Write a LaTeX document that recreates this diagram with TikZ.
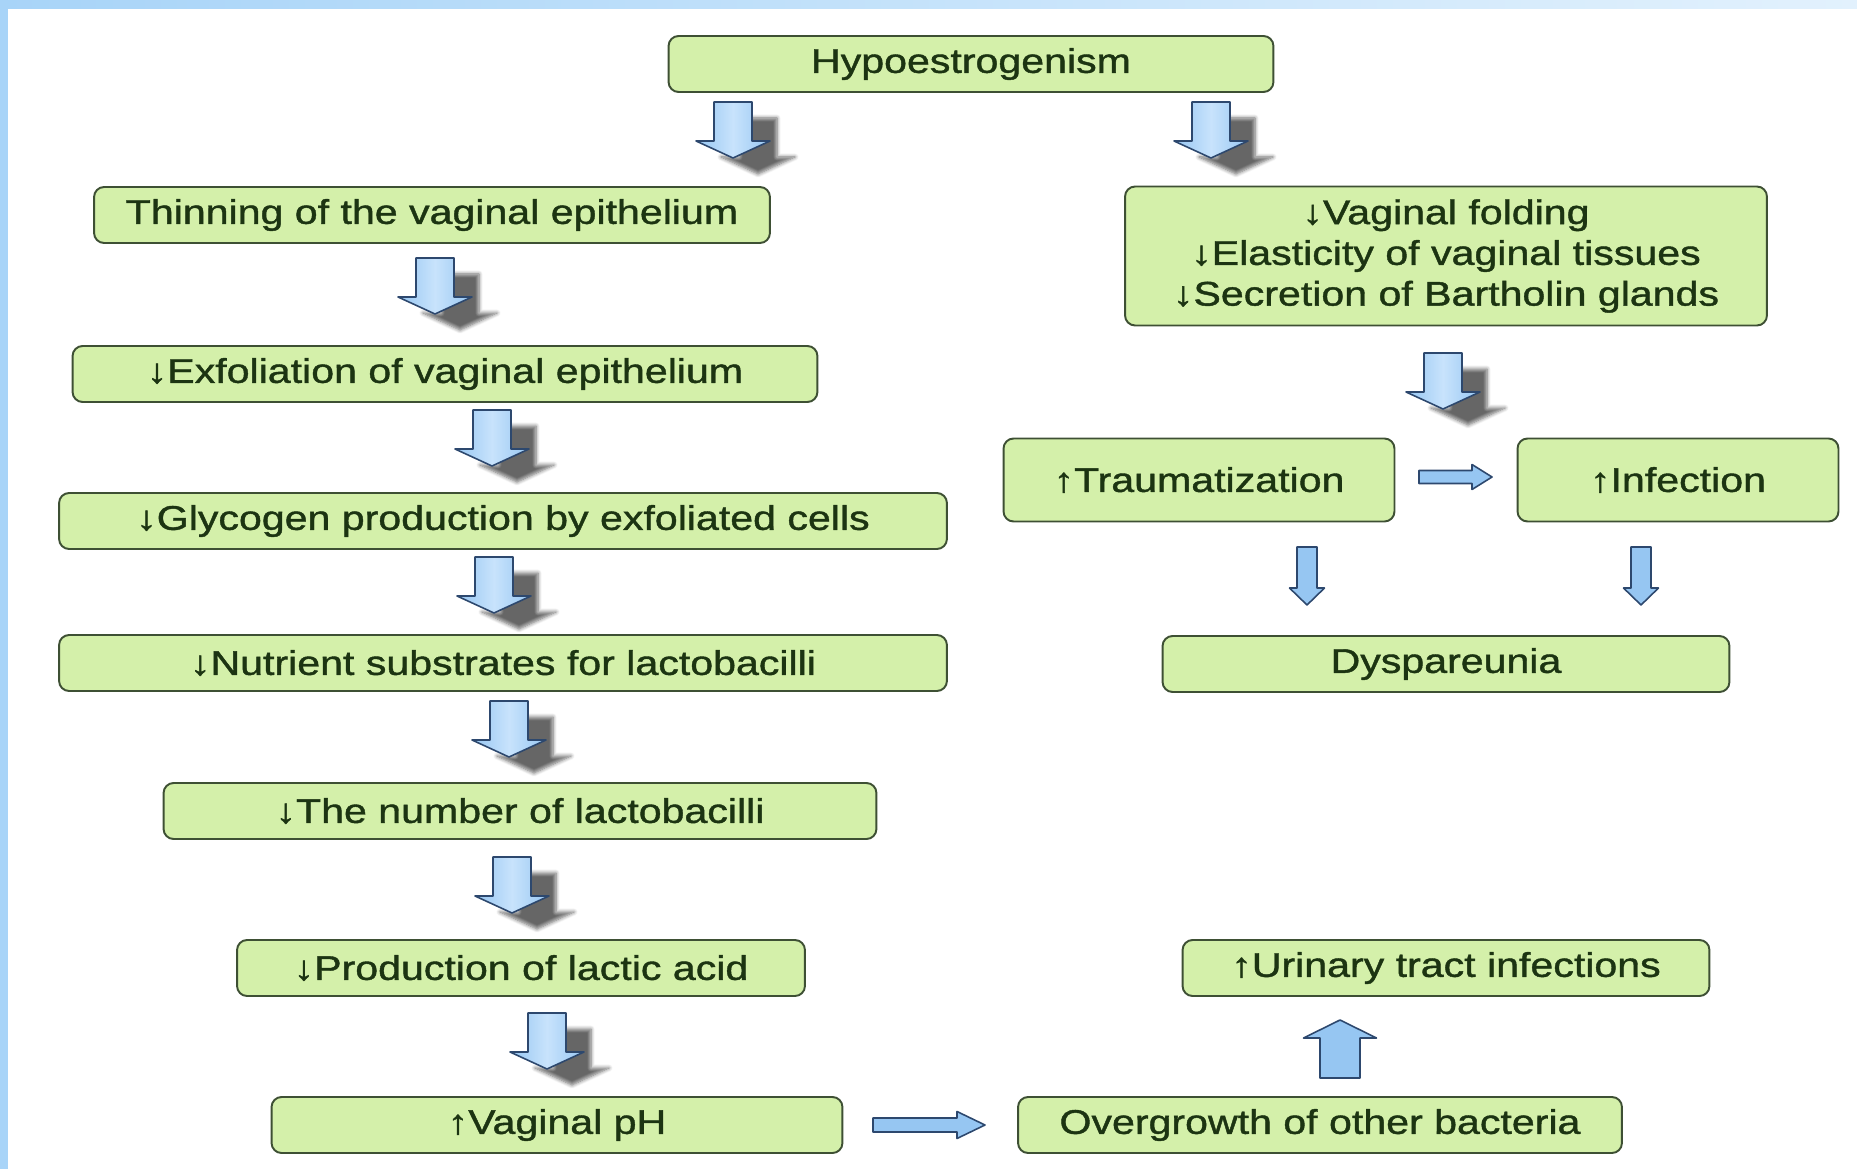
\documentclass[tikz,border=0pt]{standalone}
\usepackage{fontspec}
\setmainfont{Liberation Sans}[FakeStretch=1.2, FakeBold=1.2]
\usetikzlibrary{shadows.blur}

\definecolor{boxfill}{RGB}{212,240,170}
\definecolor{boxline}{RGB}{62,80,52}
\definecolor{boxtext}{RGB}{28,52,18}
\definecolor{arrowfill}{RGB}{150,198,242}
\definecolor{arrowlight}{RGB}{200,227,252}
\definecolor{arrowline}{RGB}{45,72,110}
\definecolor{bandblue}{RGB}{168,212,248}
\definecolor{bandlight}{RGB}{226,241,253}

\tikzset{
  stagebox/.style={draw=boxline, fill=boxfill, rounded corners=0.2cm, line width=1.1pt,
    text=boxtext, font=\fontsize{19.5}{23.2}\selectfont, align=center, minimum height=1.12cm},
  fatarrow/.style={draw=arrowline, line width=0.9pt, left color=arrowfill, right color=arrowfill,
    middle color=arrowlight, line join=round,
    blur shadow={shadow xshift=0.5cm, shadow yshift=-0.32cm, shadow opacity=60, shadow blur steps=6}},
  thinarrow/.style={draw=arrowline, line width=0.9pt, fill=arrowfill, line join=round},
}

% shadowed block arrow pointing down, #1 = top centre
\newcommand{\fatdown}[1]{%
  \draw[fatarrow] (#1) ++(-19,0) -- ++(38,0) -- ++(0,39) -- ++(18,0) -- ++(-37,17)
    -- ++(-37,-17) -- ++(18,0) -- cycle;}

% plain block arrow: #1 start, #2 angle, #3 length, #4 shaft, #5 head width, #6 head length
\newcommand{\slimarrow}[6]{%
  \draw[thinarrow, shift={(#1)}, rotate=#2] (0,{-#4/2}) -- ({#3-#6},{-#4/2}) -- ({#3-#6},{-#5/2})
    -- (#3,0) -- ({#3-#6},{#5/2}) -- ({#3-#6},{#4/2}) -- (0,{#4/2}) -- cycle;}

\begin{document}
\begin{tikzpicture}[x=0.02cm, y=-0.02cm]

        \useasboundingbox (0,0) rectangle (1857,1169);
        \fill[left color=bandblue, right color=bandlight] (0,0) rectangle (1857,9);
        \fill[bandblue] (0,0) rectangle (8,1169);

        \begin{scope}[every node/.style={stagebox}]
          \node[minimum width=12.1cm]  (hypo) at (971,64)   {Hypoestrogenism};
          \node[minimum width=13.52cm] (thin) at (432,215)  {Thinning of the vaginal epithelium};
          \node[minimum width=12.84cm, minimum height=2.78cm] (fold) at (1446,256)
            {↓Vaginal folding\\↓Elasticity of vaginal tissues\\↓Secretion of Bartholin glands};
          \node[minimum width=14.9cm]  (exfo) at (445,374)  {↓Exfoliation of vaginal epithelium};
          \node[minimum width=17.76cm] (glyc) at (503,521)  {↓Glycogen production by exfoliated cells};
          \node[minimum width=17.76cm] (nutr) at (503,663)  {↓Nutrient substrates for lactobacilli};
          \node[minimum width=14.26cm] (lact) at (520,811)  {↓The number of lactobacilli};
          \node[minimum width=11.36cm] (acid) at (521,968)  {↓Production of lactic acid};
          \node[minimum width=11.42cm] (ph)   at (557,1125) {↑Vaginal pH};
          \node[minimum width=12.08cm] (over) at (1320,1125) {Overgrowth of other bacteria};
          \node[minimum width=10.54cm] (urin) at (1446,968) {↑Urinary tract infections};
          \node[minimum width=7.82cm, minimum height=1.66cm] (trau) at (1199,480) {↑Traumatization};
          \node[minimum width=6.42cm, minimum height=1.66cm] (infe) at (1678,480) {↑Infection};
          \node[minimum width=11.34cm] (dysp) at (1446,664) {Dyspareunia};
        \end{scope}

        % shadowed arrows
        \coordinate (hypoL) at (733,102);
        \coordinate (hypoR) at (1211,102);
        \coordinate (thinA) at (435,258);
        \coordinate (exfoA) at (492,410);
        \coordinate (glycA) at (494,557);
        \coordinate (nutrA) at (509,701);
        \coordinate (lactA) at (512,857);
        \coordinate (acidA) at (547,1013);
        \coordinate (foldA) at (1443,353);
        \foreach \c in {hypoL,hypoR,thinA,exfoA,glycA,nutrA,lactA,acidA,foldA}
          \fatdown{\c};

        % plain arrows
        \coordinate (trauR) at (1419,477);
        \coordinate (phR)   at (873,1125);
        \coordinate (trauD) at (1307,547);
        \coordinate (infeD) at (1641,547);
        \coordinate (overU) at (1340,1078);
        \slimarrow{trauR}{0}{73}{13}{25}{20}
        \slimarrow{phR}{0}{112}{14}{27}{28}
        \slimarrow{trauD}{-90}{58}{20}{35}{17}
        \slimarrow{infeD}{-90}{58}{20}{35}{17}
        \slimarrow{overU}{90}{58}{40}{73}{18}

      \end{tikzpicture}
\end{document}
